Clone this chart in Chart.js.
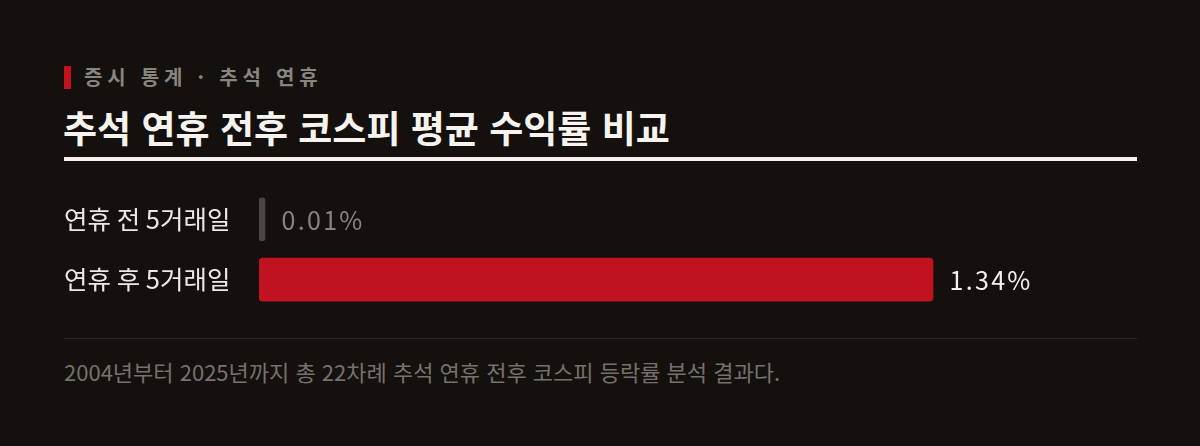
<!DOCTYPE html>
<html lang="ko">
<head>
<meta charset="utf-8">
<script src="https://cdn.jsdelivr.net/npm/chart.js@4"></script>
<style>
  html, body { margin:0; padding:0; background:#13100e; width:1200px; height:446px; overflow:hidden; }
  body { position:relative; font-family:"Noto Sans CJK KR","Noto Sans",sans-serif; }
  .accent { position:absolute; left:64px; top:66px; width:7px; height:23px; background:#c0121f; }
  .kicker { position:absolute; left:84px; top:62px; font-size:20px; font-weight:700; color:#8a847f; letter-spacing:4.8px; line-height:30px; white-space:nowrap; }
  .title { position:absolute; left:63px; top:104px; font-size:37px; font-weight:700; color:#f7f4ef; line-height:46px; white-space:nowrap; }
  .rule { position:absolute; left:64px; top:157px; width:1073px; height:4px; background:#f4f1ec; }
  .divider { position:absolute; left:64px; top:338px; width:1073px; height:1px; background:#2c2825; }
  .note { position:absolute; left:64px; top:356px; font-size:22px; color:#77716c; line-height:30px; white-space:nowrap; }
  #wrap { position:absolute; left:64px; top:174px; width:1073px; height:151px; }
</style>
</head>
<body>
<div class="accent"></div>
<div class="kicker">증시 통계 · 추석 연휴</div>
<div class="title">추석 연휴 전후 코스피 평균 수익률 비교</div>
<div class="rule"></div>
<div id="wrap"><canvas id="c"></canvas></div>
<div class="divider"></div>
<div class="note">2004년부터 2025년까지 총 22차례 추석 연휴 전후 코스피 등락률 분석 결과다.</div>
<script>
const categories = ["연휴 전 5거래일", "연휴 후 5거래일"];
const values = [0.01, 1.34];
const valueLabels = ["0.01%", "1.34%"];
const barColors = ["#4a4542", "#c0121f"];
const labelColors = ["#8a847f", "#f4f1ec"];

const valueLabelPlugin = {
  id: 'valueLabels',
  afterDatasetsDraw(chart) {
    const ctx = chart.ctx;
    const meta = chart.getDatasetMeta(0);
    ctx.save();
    ctx.font = '400 25px "Noto Sans CJK KR","Noto Sans",sans-serif';
    ctx.letterSpacing = '2.3px';
    ctx.textBaseline = 'middle';
    ctx.textAlign = 'left';
    meta.data.forEach((bar, i) => {
      ctx.fillStyle = labelColors[i];
      ctx.fillText(valueLabels[i], bar.x + 16.5, bar.y + 1);
    });
    ctx.restore();
  }
};

new Chart(document.getElementById('c'), {
  type: 'bar',
  data: {
    labels: categories,
    datasets: [{
      data: values,
      backgroundColor: barColors,
      borderRadius: [3, 4],
      borderSkipped: false,
      barThickness: 43,
      minBarLength: 6
    }]
  },
  options: {
    indexAxis: 'y',
    responsive: true,
    maintainAspectRatio: false,
    animation: false,
    devicePixelRatio: 1,
    layout: { padding: 0 },
    plugins: { legend: { display: false }, tooltip: { enabled: false } },
    scales: {
      x: { display: false, min: 0, max: 1.7455 },
      y: {
        grid: { display: false },
        border: { display: false },
        afterFit(axis) { axis.width = 195; },
        ticks: {
          crossAlign: 'far',
          padding: 0,
          color: '#ece8e2',
          font: { family: '"Noto Sans CJK KR","Noto Sans",sans-serif', size: 25.5, weight: '400' }
        }
      }
    }
  },
  plugins: [valueLabelPlugin]
});
</script>
</body>
</html>
